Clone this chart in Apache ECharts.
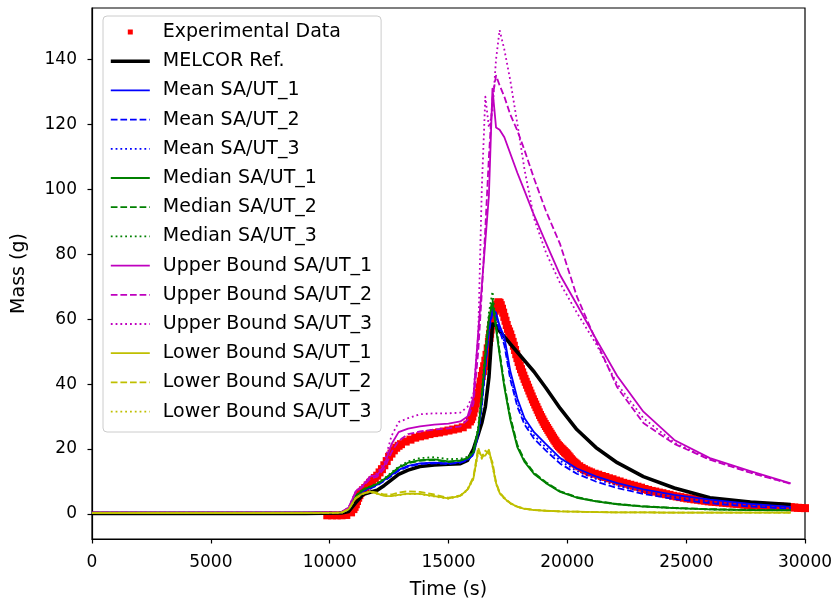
<!DOCTYPE html>
<html><head><meta charset="utf-8">
<script src="https://cdn.jsdelivr.net/npm/echarts@6/dist/echarts.min.js"></script>
<style>html,body{margin:0;padding:0;background:#fff}#c{width:835px;height:600px}</style>
</head><body><div id="c"></div>
<script>
// ---- data ----
const T = [0, 9000, 10500, 10800, 11100, 11400, 11700, 12000, 12300, 12600, 12900, 13300, 13800, 14400, 15000, 15500, 15800, 16050, 16250, 16400, 16550, 16700, 16850, 17000, 17150, 17350, 17600, 17900, 18200, 18600, 19100, 19700, 20400, 21200, 22100, 23200, 24500, 26000, 27700, 29400];

const melcor  = [0.2, 0.2, 0.3, 0.8, 3.5, 6.0, 6.7, 7.3, 8.8, 10.5, 12.2, 13.5, 14.6, 15.1, 15.3, 15.5, 16.5, 20.0, 24.5, 28.0, 33.0, 42.0, 58.5, 58.0, 56.3, 54.6, 52.4, 49.8, 47.2, 43.8, 38.8, 32.5, 26.0, 20.5, 15.8, 11.5, 8.0, 5.0, 3.7, 2.9];

const mean1   = [0.3, 0.3, 0.5, 1.5, 5.5, 7.2, 8.0, 9.0, 10.5, 12.0, 13.6, 14.8, 15.6, 15.8, 15.6, 16.0, 16.8, 18.5, 25.0, 34.0, 46.0, 57.0, 63.0, 62.0, 58.0, 54.5, 44.0, 35.5, 29.5, 25.2, 21.5, 17.2, 14.0, 11.6, 9.5, 7.6, 5.9, 4.4, 3.1, 2.2];
const mean2   = [0.3, 0.3, 0.5, 1.4, 5.3, 7.0, 7.8, 8.8, 10.2, 11.7, 13.3, 14.6, 15.4, 15.6, 15.4, 15.8, 16.6, 18.2, 24.5, 33.0, 45.0, 56.0, 62.0, 60.5, 56.5, 52.0, 41.5, 33.0, 27.5, 23.2, 19.5, 15.5, 12.4, 10.0, 8.0, 6.2, 4.6, 3.3, 2.3, 1.6];
const mean3   = [0.3, 0.3, 0.5, 1.5, 5.4, 7.1, 7.9, 8.9, 10.4, 11.9, 13.5, 14.7, 15.5, 15.7, 15.5, 15.9, 16.7, 18.4, 24.8, 33.5, 46.0, 57.5, 64.0, 61.5, 57.0, 53.0, 42.5, 34.0, 28.5, 24.2, 20.5, 16.4, 13.2, 10.8, 8.7, 6.9, 5.2, 3.8, 2.7, 1.9];

const median1 = [0.3, 0.3, 0.5, 1.5, 5.5, 7.5, 8.4, 9.3, 10.8, 12.5, 14.3, 15.8, 16.6, 16.8, 16.2, 16.5, 17.2, 19.0, 26.0, 36.0, 49.0, 60.0, 65.0, 57.0, 49.0, 39.0, 29.0, 20.5, 16.0, 12.3, 9.5, 6.8, 5.0, 3.9, 3.0, 2.3, 1.8, 1.4, 1.2, 1.1];
const median2 = [0.3, 0.3, 0.5, 1.5, 5.4, 7.4, 8.3, 9.2, 10.7, 12.4, 14.2, 15.6, 16.4, 16.6, 16.0, 16.4, 17.1, 18.8, 25.5, 35.5, 48.5, 60.5, 66.0, 58.0, 50.0, 40.0, 30.0, 21.2, 16.5, 12.7, 9.8, 7.0, 5.2, 4.0, 3.1, 2.4, 1.9, 1.5, 1.3, 1.2];
const median3 = [0.3, 0.3, 0.5, 1.6, 5.6, 7.6, 8.5, 9.5, 11.0, 12.8, 14.6, 16.2, 17.2, 17.5, 16.9, 17.0, 17.6, 19.5, 27.0, 37.5, 51.0, 62.0, 68.5, 58.5, 49.5, 39.5, 29.5, 21.0, 16.3, 12.5, 9.6, 6.9, 5.1, 3.9, 3.0, 2.3, 1.8, 1.4, 1.2, 1.1];

const upper1  = [0.4, 0.4, 0.6, 2.0, 7.0, 8.8, 11.5, 12.0, 15.0, 21.5, 25.2, 26.3, 27.0, 27.5, 27.8, 28.5, 30.0, 36.0, 56.0, 70.0, 84.0, 98.0, 131.0, 119.0, 118.3, 116.0, 111.0, 105.0, 99.5, 92.0, 83.5, 73.5, 64.5, 54.0, 42.5, 31.5, 22.8, 17.2, 13.2, 9.4];
const upper2  = [0.4, 0.4, 0.6, 2.0, 6.8, 8.5, 10.8, 11.5, 14.0, 19.0, 22.5, 24.6, 25.4, 26.0, 26.4, 27.0, 29.0, 34.0, 50.0, 68.0, 88.0, 110.0, 128.0, 135.0, 132.0, 128.5, 123.0, 118.0, 112.0, 103.3, 93.3, 83.0, 67.0, 53.5, 39.0, 28.0, 21.6, 16.7, 12.7, 9.3];
const upper3  = [0.4, 0.4, 0.6, 2.0, 7.0, 8.8, 11.5, 12.5, 16.0, 24.0, 28.3, 29.5, 30.7, 31.0, 31.0, 31.2, 33.0, 37.0, 55.0, 100.0, 128.5, 119.0, 124.0, 140.0, 149.0, 143.0, 133.5, 120.0, 106.0, 91.0, 80.5, 71.0, 62.0, 52.5, 40.0, 29.5, 22.0, 16.8, 12.8, 9.3];

const lower1  = [0.3, 0.3, 0.4, 1.5, 5.0, 6.3, 6.9, 6.3, 5.6, 5.5, 5.9, 6.3, 6.2, 5.5, 4.8, 5.6, 7.5, 11.0, 19.5, 17.8, 18.0, 19.8, 15.0, 9.5, 6.5, 4.8, 3.3, 2.2, 1.6, 1.2, 1.0, 0.8, 0.7, 0.6, 0.5, 0.5, 0.4, 0.4, 0.4, 0.4];
const lower2  = [0.3, 0.3, 0.4, 1.4, 4.8, 6.2, 7.0, 6.6, 6.0, 6.0, 6.6, 7.0, 6.8, 6.0, 5.0, 5.7, 7.6, 11.5, 20.5, 17.0, 19.5, 18.5, 16.0, 9.8, 6.7, 5.0, 3.4, 2.3, 1.7, 1.3, 1.0, 0.8, 0.7, 0.6, 0.5, 0.5, 0.4, 0.4, 0.4, 0.4];
const lower3  = [0.3, 0.3, 0.4, 1.5, 5.0, 6.3, 6.8, 6.2, 5.5, 5.5, 5.8, 6.2, 6.1, 5.4, 4.7, 5.5, 7.4, 10.8, 19.0, 18.2, 18.5, 19.5, 14.8, 9.3, 6.4, 4.7, 3.2, 2.2, 1.6, 1.2, 1.0, 0.8, 0.7, 0.6, 0.5, 0.5, 0.4, 0.4, 0.4, 0.4];

// experimental data: [time (s), mass (g)]
const expData = [
 [9900,-0.4],[10100,-0.4],[10300,-0.4],[10500,-0.4],[10700,-0.3],[10900,0.5],[11000,1.5],[11050,2.2],[11100,3.0],[11150,4.0],
 [11200,5.0],[11250,5.8],[11300,6.5],[11400,7.3],[11500,8.0],[11600,8.8],[11700,9.6],[11800,10.4],[11900,11.1],[12000,11.8],
 [12100,12.8],[12200,13.8],[12300,15.0],[12400,16.3],[12500,17.6],[12600,18.6],[12700,19.6],[12800,20.4],[12900,21.0],[13000,21.5],
 [13200,22.3],[13400,22.9],[13600,23.5],[13800,23.9],[14000,24.2],[14200,24.6],[14400,24.9],[14600,25.1],[14800,25.4],[15000,25.7],
 [15200,26.0],[15400,26.3],[15600,26.7],[15800,27.5],[15900,28.5],[15950,29.2],[16000,30.0],[16050,31.2],[16100,32.5],[16150,34.0],
 [16200,35.5],[16250,37.2],[16300,39.0],[16350,40.8],[16400,42.5],[16450,44.0],[16500,45.5],[16550,47.2],[16600,49.0],[16650,51.0],
 [16700,53.0],[16725,54.2],[16750,55.5],[16775,56.8],[16800,58.0],[16825,59.0],[16850,60.0],[16900,61.5],[16950,62.6],[17000,63.5],
 [17050,64.5],[17100,65.2],[17150,65.0],[17200,64.3],[17250,63.2],[17300,62.0],[17350,60.7],[17400,59.5],[17450,58.2],[17500,57.0],
 [17550,56.2],[17600,55.3],[17650,54.2],[17700,53.0],[17750,51.8],[17800,50.5],[17850,49.2],[17900,48.0],[17950,46.8],[18000,45.6],
 [18050,44.6],[18100,43.6],[18150,42.6],[18200,41.6],[18250,40.7],[18300,39.8],[18350,38.9],[18400,38.0],[18450,37.1],[18500,36.2],
 [18550,35.3],[18600,34.5],[18650,33.7],[18700,32.9],[18750,32.1],[18800,31.3],[18850,30.5],[18900,29.8],[18950,29.1],[19000,28.4],
 [19050,27.7],[19100,27.1],[19150,26.5],[19200,25.9],[19250,25.3],[19300,24.7],[19350,24.1],[19400,23.5],[19450,22.9],[19500,22.4],
 [19550,21.8],[19600,21.3],[19650,20.9],[19700,20.5],[19750,20.1],[19800,19.8],[19850,19.4],[19900,19.0],[19950,18.7],[20000,18.3],
 [20050,17.8],[20100,17.4],[20150,16.9],[20200,16.5],[20250,16.1],[20300,15.8],[20350,15.5],[20400,15.2],[20500,14.7],[20600,14.2],
 [20700,13.8],[20800,13.4],[20900,13.1],[21000,12.8],[21150,12.4],[21300,12.1],[21450,11.7],[21600,11.4],[21750,11.0],[21900,10.7],
 [22050,10.3],[22200,10.0],[22350,9.6],[22500,9.3],[22650,9.0],[22800,8.7],[22950,8.4],[23100,8.1],[23250,7.7],[23400,7.4],
 [23550,7.1],[23700,6.9],[23850,6.6],[24000,6.4],[24150,6.1],[24300,5.9],[24450,5.6],[24600,5.4],[24750,5.2],[24900,5.0],
 [25050,4.8],[25200,4.7],[25350,4.5],[25500,4.4],[25650,4.2],[25800,4.1],[25950,3.9],[26100,3.8],[26250,3.7],[26400,3.6],
 [26550,3.5],[26700,3.4],[26850,3.3],[27000,3.2],[27150,3.1],[27300,3.0],[27450,2.9],[27600,2.8],[27750,2.75],[27900,2.7],
 [28050,2.6],[28200,2.5],[28350,2.45],[28500,2.4],[28650,2.35],[28800,2.3],[28950,2.25],[29100,2.2],[29250,2.15],[29400,2.1],
 [29550,2.0],[29700,1.9],[29850,1.85],[30000,1.8]
];

const xTicks = [0, 5000, 10000, 15000, 20000, 25000, 30000];
const yTicks = [0, 20, 40, 60, 80, 100, 120, 140];

// ---- chart ----
const FONT = 'DejaVu Sans';
const FS = 17;      // tick labels
const FS_L = 19;    // legend text and axis titles
const LW = 1.8;
const DASH = [6.7, 2.9];
const DOT = [1.8, 3];

function lineSeries(name, vals, color, type, width) {
  return {
    name: name, type: 'line', data: T.map((t, i) => [t, vals[i]]),
    symbol: 'none', showSymbol: false, silent: true,
    lineStyle: { color: color, width: width || LW, type: type, cap: 'butt', join: 'round' },
    itemStyle: { color: color },
    emphasis: { disabled: true }
  };
}

const series = [
  {
    name: 'Experimental Data', type: 'scatter', data: expData,
    symbol: 'rect', symbolSize: 8, silent: true,
    itemStyle: { color: '#ff0000', opacity: 1 }, emphasis: { disabled: true }
  },
  lineSeries('MELCOR Ref.', melcor, '#000000', 'solid', 3.6),
  lineSeries('Mean SA/UT_1', mean1, '#0000ff', 'solid'),
  lineSeries('Mean SA/UT_2', mean2, '#0000ff', DASH),
  lineSeries('Mean SA/UT_3', mean3, '#0000ff', DOT),
  lineSeries('Median SA/UT_1', median1, '#008000', 'solid'),
  lineSeries('Median SA/UT_2', median2, '#008000', DASH),
  lineSeries('Median SA/UT_3', median3, '#008000', DOT),
  lineSeries('Upper Bound SA/UT_1', upper1, '#bf00bf', 'solid'),
  lineSeries('Upper Bound SA/UT_2', upper2, '#bf00bf', DASH),
  lineSeries('Upper Bound SA/UT_3', upper3, '#bf00bf', DOT),
  lineSeries('Lower Bound SA/UT_1', lower1, '#bfbf00', 'solid'),
  lineSeries('Lower Bound SA/UT_2', lower2, '#bfbf00', DASH),
  lineSeries('Lower Bound SA/UT_3', lower3, '#bfbf00', DOT)
];

const legendData = series.map(s => {
  if (s.type === 'scatter') {
    return { name: s.name, icon: 'path://M0,0L0.01,0M39,12L39.01,12M17,3.5L22,3.5L22,8.5L17,8.5Z', itemStyle: { opacity: 1 } };
  }
  return {
    name: s.name,
    lineStyle: { width: s.lineStyle.width },
    itemStyle: { opacity: 0, color: 'rgba(0,0,0,0)', borderWidth: 0 }
  };
});

const chart = echarts.init(document.getElementById('c'), null, { renderer: 'canvas' });
chart.setOption({
  animation: false,
  backgroundColor: '#ffffff',
  grid: {
    left: 92, right: 30, top: 8, bottom: 61,
    outerBoundsMode: 'none', containLabel: false,
    show: true, borderColor: '#000', borderWidth: 1.2, backgroundColor: 'transparent'
  },
  xAxis: {
    type: 'value', min: 0, max: 30000, interval: 5000,
    name: 'Time (s)', nameLocation: 'middle', nameGap: 42,
    nameTextStyle: { fontFamily: FONT, fontSize: FS_L, color: '#000' },
    axisLine: { show: true, onZero: false, lineStyle: { color: '#000', width: 1.2 } },
    axisTick: { show: true, inside: false, length: 4.5, lineStyle: { color: '#000', width: 1.2 }, customValues: xTicks },
    axisLabel: { fontFamily: FONT, fontSize: FS, color: '#000', margin: 15, customValues: xTicks, formatter: v => String(v) },
    splitLine: { show: false }
  },
  yAxis: {
    type: 'value', min: -7.7, max: 155.8,
    name: 'Mass (g)', nameLocation: 'middle', nameGap: 63,
    nameTextStyle: { fontFamily: FONT, fontSize: FS_L, color: '#000' },
    axisLine: { show: true, onZero: false, lineStyle: { color: '#000', width: 1.2 } },
    axisTick: { show: true, inside: false, length: 4.5, lineStyle: { color: '#000', width: 1.2 }, customValues: yTicks },
    axisLabel: { fontFamily: FONT, fontSize: FS, color: '#000', margin: 15, customValues: yTicks, formatter: v => String(v) },
    splitLine: { show: false }
  },
  legend: {
    orient: 'vertical', left: 103, top: 16,
    padding: [6.5, 9, 10.9, 6],
    itemWidth: 39, itemHeight: 12, itemGap: 10.2,
    backgroundColor: 'rgba(255,255,255,0.8)', borderColor: '#cccccc', borderWidth: 1, borderRadius: 4,
    textStyle: { fontFamily: FONT, fontSize: FS_L, color: '#000', lineHeight: 18, padding: [0, 0, 0, 8] },
    lineStyle: { width: LW },
    selectedMode: false,
    data: legendData
  },
  series: series
});
</script>
</body></html>
